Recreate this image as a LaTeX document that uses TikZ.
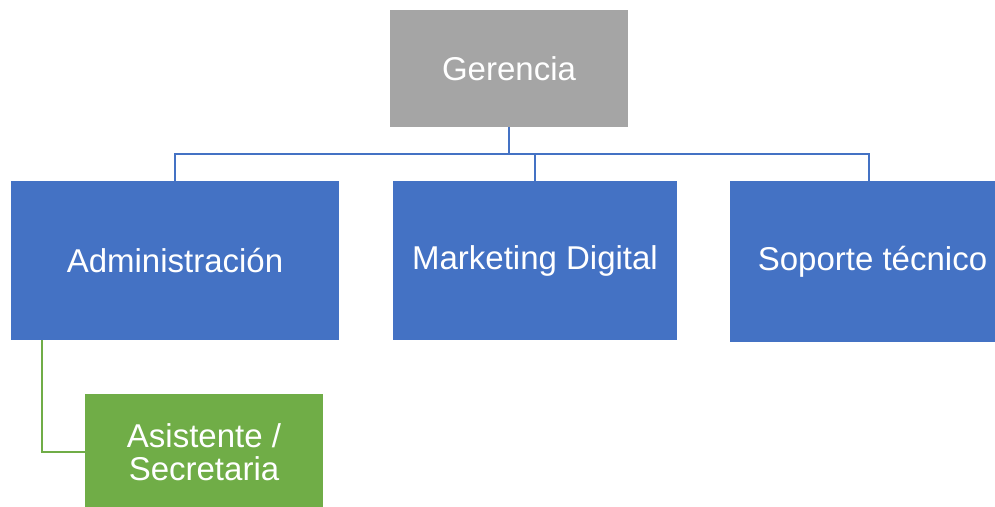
\documentclass[tikz,border=0pt]{standalone}
\usepackage{fontspec}
\setmainfont{Liberation Sans}
\definecolor{boxgray}{HTML}{A5A5A5}
\definecolor{boxblue}{HTML}{4472C4}
\definecolor{boxgreen}{HTML}{70AD47}
\tikzset{
  unit/.style={fill=#1, text=white, inner sep=0pt, align=center,
    font=\fontsize{33}{33}\selectfont},
  link/.style={draw=#1, line width=2pt}
}
\begin{document}
\begin{tikzpicture}[x=1pt,y=-1pt]
  \clip (0,0) rectangle (995,506);
  \fill[white] (0,0) rectangle (995,506);
  \node[unit=boxgray, minimum width=238pt, minimum height=117pt] (ger) at (509,68.5) {Gerencia};
  \node[unit=boxblue, minimum width=328pt, minimum height=159pt] (adm) at (175,260.5) {Administración};
  \node[unit=boxblue, minimum width=284pt, minimum height=159pt] (mkt) at (535,260.5) {Marketing Digital};
  \node[unit=boxblue, minimum width=285pt, minimum height=161pt] (sop) at (872.5,261.5) {Soporte técnico};
  \node[unit=boxgreen, minimum width=238pt, minimum height=116pt] (asi) at (204,452) {Asistente /\\Secretaria};
  \coordinate (bus) at (509,154);
  \draw[link=boxblue] (ger.south) -- (bus);
  \draw[link=boxblue] (adm.north) |- (bus) -| ([xshift=-3.5pt]sop.north);
  \draw[link=boxblue] (mkt.north) -- (mkt.north |- bus);
  \draw[link=boxgreen] ([xshift=31pt]adm.south west) |- (asi.west);
\end{tikzpicture}
\end{document}
